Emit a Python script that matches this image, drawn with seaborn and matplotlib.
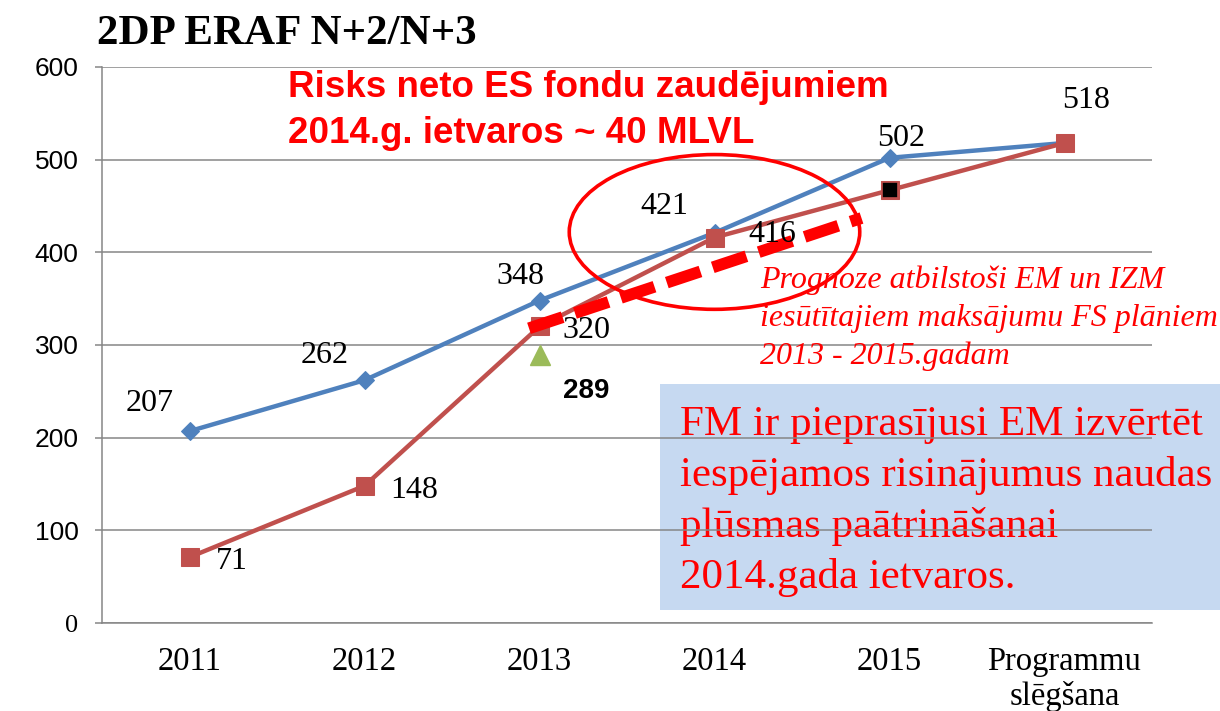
import matplotlib
matplotlib.use("Agg")
import matplotlib.pyplot as plt
import seaborn as sns
import pandas as pd
from matplotlib.patches import Ellipse, Rectangle

# ---- data ----
categories = ["2011", "2012", "2013", "2014", "2015", "Programmu\nslēgšana"]
actual = [207, 262, 348, 421, 502, 518]          # blue
planned = [71, 148, 320, 416, 467, 518]          # red
actual_labels = ["207", "262", "348", "421", "502", "518"]
planned_labels = ["71", "148", "320", "416", None, None]
alt_2013 = 289                                    # green triangle
forecast_pos = [1.94, 3.84]                       # dashed forecast (category index)
forecast_vals = [318, 437]
y_ticks = [0, 100, 200, 300, 400, 500, 600]

BLUE = "#4F81BD"
RED = "#C0504D"
GREEN = "#9BBB59"
GRID = "#868686"

sns.set_style("white")
plt.rcParams['font.family'] = ['Liberation Serif', 'DejaVu Serif']
plt.rcParams['text.color'] = 'black'
plt.rcParams['xtick.labelcolor'] = 'black'
plt.rcParams['ytick.labelcolor'] = 'black'

idx = list(range(len(categories)))
df = pd.DataFrame({"pos": idx, "actual": actual, "planned": planned})

fig = plt.figure(figsize=(12.2, 7.11), dpi=100)
ax = fig.add_axes([102 / 1220, 1 - 623 / 711, 1050 / 1220, 556 / 711])
ax.set_facecolor("none")

sns.lineplot(data=df, x="pos", y="actual", color=BLUE, lw=3.2, marker="D",
             markersize=9.5, markeredgecolor=BLUE, ax=ax)
sns.lineplot(data=df, x="pos", y="planned", color=RED, lw=3.2, marker="s",
             markersize=13, markeredgecolor=RED, ax=ax)
ax.lines[0].set_zorder(3)
ax.lines[1].set_zorder(4)
# 2015 planned point shown as black square
ax.plot(idx[4], planned[4], marker="s", markersize=12, markerfacecolor="black",
        markeredgecolor=RED, markeredgewidth=1.2, zorder=5)
# alternative 2013 value
ax.plot(idx[2], alt_2013, marker="^", markersize=15, color=GREEN, lw=0, zorder=5)

# forecast dashed line
ax.plot(forecast_pos, forecast_vals, color="#FF0000", lw=8.5, dashes=(3, 1.1),
        solid_capstyle="butt", dash_capstyle="butt", zorder=6)

# ellipse round 2014
ax.add_patch(Ellipse((3, 422), width=1.66, height=167, fill=False,
                     edgecolor="#FF0000", lw=2.6, zorder=7))

# data labels
lab_font = dict(fontsize=23, color="black", ha="center", va="center_baseline",
                family=['Liberation Serif', 'DejaVu Serif'])
blue_off = [(-40, 31), (-40, 28), (-19, 28), (-50, 30), (12, 23), (22, 46)]
red_off = [(42, -1), (50, -1), (47, -1), (58, 7), None, None]
for i, lab in enumerate(actual_labels):
    dx, dy = blue_off[i]
    ax.annotate(lab, (idx[i], actual[i]), xytext=(dx * 0.72, dy * 0.72),
                textcoords="offset points", zorder=8, **lab_font)
for i, lab in enumerate(planned_labels):
    if lab is None:
        continue
    dx, dy = red_off[i]
    ax.annotate(lab, (idx[i], planned[i]), xytext=(dx * 0.72, dy * 0.72),
                textcoords="offset points", zorder=8, **lab_font)
ax.annotate(str(alt_2013), (idx[2], alt_2013), xytext=(47 * 0.72, -33 * 0.72),
            textcoords="offset points", fontsize=20, fontweight="bold", color="black",
            ha="center", va="center_baseline", family=["Liberation Sans"], zorder=8)

# axes styling
ax.set_xlim(-0.5, 5.5)
ax.set_ylim(0, 600)
ax.set_yticks(y_ticks)
ax.set_yticklabels([str(v) for v in y_ticks], family=["Liberation Sans"], fontsize=19)
ax.get_yticklabels()[0].set_family(["Liberation Serif"])
ax.set_xticks(idx)
ax.set_xticklabels(categories, fontsize=23.5, linespacing=1.15)
ax.set_xticks([i - 0.5 for i in range(len(categories) + 1)], minor=True)
ax.tick_params(axis="x", which="major", length=0, pad=17, labelcolor="black")
ax.tick_params(axis="x", which="minor", length=6, width=1.1, color=GRID, direction="out")
ax.tick_params(axis="y", length=5, width=1.1, color=GRID, direction="out", pad=12,
               left=True, labelcolor="black")
ax.set_xlabel("")
ax.set_ylabel("")
ax.set_axisbelow(True)
ax.grid(axis="y", color=GRID, lw=1.1, zorder=0.5)
ax.grid(axis="x", visible=False)
for s in ["top", "right"]:
    ax.spines[s].set_visible(False)
for s in ["left", "bottom"]:
    ax.spines[s].set_color(GRID)
    ax.spines[s].set_linewidth(1.1)

# blue note box (behind the grid, like the original)
ax.add_patch(Rectangle((660 / 1220, 1 - 610 / 711), 560 / 1220, 226 / 711,
                       transform=fig.transFigure, facecolor="#C6D9F1",
                       edgecolor="none", clip_on=False, zorder=0.2))
box_lines = ["FM ir pieprasījusi EM izvērtēt",
             "iespējamos risinājumus naudas",
             "plūsmas paātrināšanai",
             "2014.gada ietvaros."]
for k, line in enumerate(box_lines):
    ax.text(680 / 1220, 1 - (435 + 51 * k) / 711, line, transform=fig.transFigure,
            fontsize=31, color="#FF0000", ha="left", va="baseline", zorder=0.3)

# title
fig.text(97 / 1220, 1 - 44 / 711, "2DP ERAF N+2/N+3", fontsize=31,
         fontweight="bold", ha="left", va="baseline", color="black")

# risk note
risk_lines = ["Risks neto ES fondu zaudējumiem", "2014.g. ietvaros ~ 40 MLVL"]
for k, line in enumerate(risk_lines):
    fig.text(288 / 1220, 1 - (97 + 46 * k) / 711, line, fontsize=26.5,
             fontweight="bold", color="#FF0000", ha="left", va="baseline",
             family=["Liberation Sans"])

# forecast note
fc_lines = ["Prognoze atbilstoši EM un IZM",
            "iesūtītajiem maksājumu FS plāniem",
            "2013 - 2015.gadam"]
for k, line in enumerate(fc_lines):
    fig.text(760 / 1220, 1 - (288 + 38 * k) / 711, line, fontsize=23,
             style="italic", color="#FF0000", ha="left", va="baseline")

fig.savefig("out.png", dpi=100)
